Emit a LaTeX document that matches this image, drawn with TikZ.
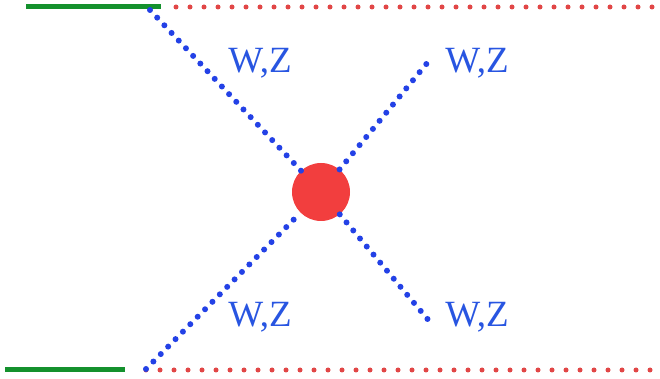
\documentclass[tikz,border=0pt]{standalone}
\usepackage{fontspec}
\setmainfont{Liberation Serif}
\definecolor{fgreen}{RGB}{20,145,45}
\definecolor{fred}{RGB}{225,70,70}
\definecolor{fblue}{RGB}{35,65,230}
\definecolor{tblue}{RGB}{40,85,225}
\definecolor{blobred}{RGB}{242,62,62}
\begin{document}
\begin{tikzpicture}[x=1pt,y=1pt,
  quark/.style={draw=fgreen,line width=5pt},
  spect/.style={draw=fred,line width=5pt,line cap=round,dash pattern=on 0pt off 14pt},
  boson/.style={draw=fblue,line width=6pt,line cap=round,dash pattern=on 0pt off 10.5pt},
  lbl/.style={text=tblue,font=\fontsize{37}{40}\selectfont,inner sep=0pt}]
\useasboundingbox (0,0) rectangle (660,379);
% coordinates
\coordinate (q1a) at (26,372);
\coordinate (q1b) at (161,372);
\coordinate (r1a) at (176,372);
\coordinate (r1b) at (660,372);
\coordinate (q2a) at (5,9);
\coordinate (q2b) at (125,9);
\coordinate (r2a) at (146,9);
\coordinate (r2b) at (660,9);
\coordinate (v1) at (150,369);
\coordinate (v2) at (146,10);
\coordinate (o1) at (428,317);
\coordinate (o2) at (430,57);
\node[circle,fill=blobred,minimum size=58pt,inner sep=0pt] (blob) at (321,187) {};
% lines
\draw[quark] (q1a) -- (q1b);
\draw[quark] (q2a) -- (q2b);
\draw[spect] (r1a) -- (r1b);
\draw[spect] (r2a) -- (r2b);
\draw[boson] (v1) -- (blob);
\draw[boson] (v2) -- (blob);
\draw[boson] (blob) -- (o1);
\draw[boson] (blob) -- (o2);
% labels
\node[lbl] (l1) at (260,316) {W,Z};
\node[lbl] (l2) at (477,316) {W,Z};
\node[lbl] (l3) at (260,62) {W,Z};
\node[lbl] (l4) at (477,62) {W,Z};
\end{tikzpicture}
\end{document}
